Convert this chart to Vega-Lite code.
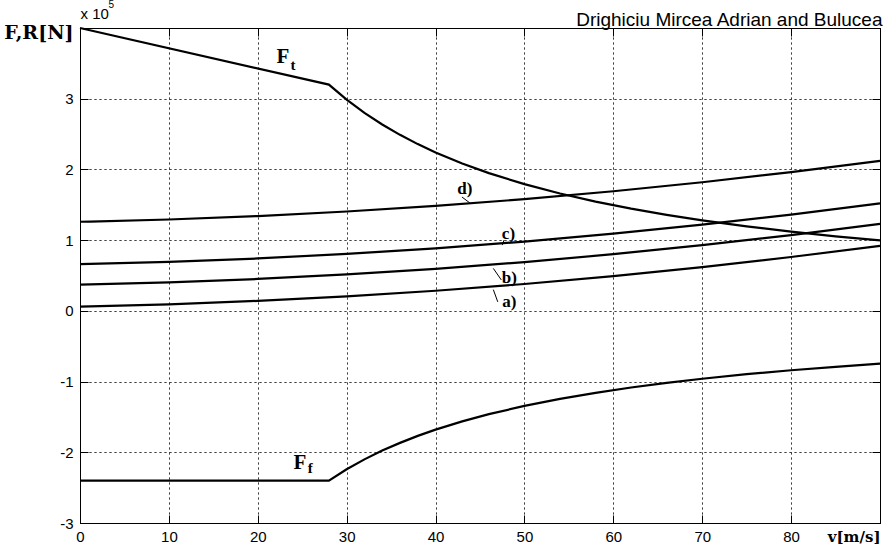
{
  "$schema": "https://vega.github.io/schema/vega-lite/v6.json",
  "width": 800,
  "height": 495,
  "autosize": {"type": "none"},
  "padding": {"left": 80, "top": 28, "right": 7, "bottom": 28},
  "background": "white",
  "config": {
    "view": {"stroke": "black", "strokeWidth": 1},
    "axis": {
      "domainColor": "black",
      "tickColor": "black",
      "labelColor": "black",
      "labelFont": "Liberation Sans",
      "labelFontSize": 15,
      "gridColor": "black",
      "gridDash": [1, 4],
      "gridOpacity": 1,
      "gridWidth": 1
    }
  },
  "datasets": {
    "forces": [
      {"series": "Ft", "v": 0, "val": 4.0},
      {"series": "Ft", "v": 28, "val": 3.2},
      {"series": "Ft", "v": 30, "val": 2.987},
      {"series": "Ft", "v": 32, "val": 2.8},
      {"series": "Ft", "v": 34, "val": 2.635},
      {"series": "Ft", "v": 36, "val": 2.489},
      {"series": "Ft", "v": 38, "val": 2.358},
      {"series": "Ft", "v": 40, "val": 2.24},
      {"series": "Ft", "v": 43, "val": 2.084},
      {"series": "Ft", "v": 46, "val": 1.948},
      {"series": "Ft", "v": 50, "val": 1.792},
      {"series": "Ft", "v": 54, "val": 1.659},
      {"series": "Ft", "v": 58, "val": 1.545},
      {"series": "Ft", "v": 62, "val": 1.445},
      {"series": "Ft", "v": 66, "val": 1.358},
      {"series": "Ft", "v": 70, "val": 1.28},
      {"series": "Ft", "v": 75, "val": 1.195},
      {"series": "Ft", "v": 80, "val": 1.12},
      {"series": "Ft", "v": 85, "val": 1.054},
      {"series": "Ft", "v": 90, "val": 0.996},
      {"series": "Ff", "v": 0, "val": -2.4},
      {"series": "Ff", "v": 28, "val": -2.4},
      {"series": "Ff", "v": 30, "val": -2.24},
      {"series": "Ff", "v": 32, "val": -2.1},
      {"series": "Ff", "v": 34, "val": -1.976},
      {"series": "Ff", "v": 36, "val": -1.867},
      {"series": "Ff", "v": 38, "val": -1.768},
      {"series": "Ff", "v": 40, "val": -1.68},
      {"series": "Ff", "v": 43, "val": -1.563},
      {"series": "Ff", "v": 46, "val": -1.461},
      {"series": "Ff", "v": 50, "val": -1.344},
      {"series": "Ff", "v": 54, "val": -1.244},
      {"series": "Ff", "v": 58, "val": -1.159},
      {"series": "Ff", "v": 62, "val": -1.084},
      {"series": "Ff", "v": 66, "val": -1.018},
      {"series": "Ff", "v": 70, "val": -0.96},
      {"series": "Ff", "v": 75, "val": -0.896},
      {"series": "Ff", "v": 80, "val": -0.84},
      {"series": "Ff", "v": 85, "val": -0.791},
      {"series": "Ff", "v": 90, "val": -0.747}
    ],
    "resist": [
      {"series": "a", "v": 0, "val": 0.06},
      {"series": "a", "v": 10, "val": 0.092},
      {"series": "a", "v": 20, "val": 0.141},
      {"series": "a", "v": 30, "val": 0.205},
      {"series": "a", "v": 40, "val": 0.284},
      {"series": "a", "v": 50, "val": 0.38},
      {"series": "a", "v": 60, "val": 0.491},
      {"series": "a", "v": 70, "val": 0.619},
      {"series": "a", "v": 80, "val": 0.762},
      {"series": "a", "v": 90, "val": 0.92},
      {"series": "b", "v": 0, "val": 0.37},
      {"series": "b", "v": 10, "val": 0.402},
      {"series": "b", "v": 20, "val": 0.451},
      {"series": "b", "v": 30, "val": 0.515},
      {"series": "b", "v": 40, "val": 0.594},
      {"series": "b", "v": 50, "val": 0.69},
      {"series": "b", "v": 60, "val": 0.801},
      {"series": "b", "v": 70, "val": 0.929},
      {"series": "b", "v": 80, "val": 1.072},
      {"series": "b", "v": 90, "val": 1.23},
      {"series": "c", "v": 0, "val": 0.66},
      {"series": "c", "v": 10, "val": 0.692},
      {"series": "c", "v": 20, "val": 0.741},
      {"series": "c", "v": 30, "val": 0.805},
      {"series": "c", "v": 40, "val": 0.884},
      {"series": "c", "v": 50, "val": 0.98},
      {"series": "c", "v": 60, "val": 1.091},
      {"series": "c", "v": 70, "val": 1.219},
      {"series": "c", "v": 80, "val": 1.362},
      {"series": "c", "v": 90, "val": 1.52},
      {"series": "d", "v": 0, "val": 1.26},
      {"series": "d", "v": 10, "val": 1.292},
      {"series": "d", "v": 20, "val": 1.341},
      {"series": "d", "v": 30, "val": 1.405},
      {"series": "d", "v": 40, "val": 1.484},
      {"series": "d", "v": 50, "val": 1.58},
      {"series": "d", "v": 60, "val": 1.691},
      {"series": "d", "v": 70, "val": 1.819},
      {"series": "d", "v": 80, "val": 1.962},
      {"series": "d", "v": 90, "val": 2.12}
    ],
    "bigLetters": [
      {"v": 22.84, "val": 3.593, "t": "F"},
      {"v": 24.75, "val": -2.146, "t": "F"}
    ],
    "subLetters": [
      {"v": 23.95, "val": 3.48, "t": "t"},
      {"v": 25.9, "val": -2.217, "t": "f"}
    ],
    "curveLabels": [
      {"v": 43.3, "val": 1.73, "t": "d)"},
      {"v": 48.2, "val": 1.087, "t": "c)"},
      {"v": 48.3, "val": 0.459, "t": "b)"},
      {"v": 48.3, "val": 0.12, "t": "a)"}
    ],
    "leaders": [
      {"v": 42.97, "val": 1.61, "v2": 43.87, "val2": 1.525},
      {"v": 47.7, "val": 1.0, "v2": 47.5, "val2": 0.93},
      {"v": 46.5, "val": 0.6, "v2": 47.4, "val2": 0.437},
      {"v": 46.5, "val": 0.3, "v2": 47.0, "val2": 0.127}
    ]
  },
  "resolve": {"axis": {"x": "independent", "y": "independent"}},
  "layer": [
    {
      "data": {"name": "forces"},
      "mark": {"type": "line", "color": "black", "strokeWidth": 2.2},
      "encoding": {
        "x": {
          "field": "v", "type": "quantitative",
          "scale": {"domain": [0, 90], "nice": false, "zero": false},
          "axis": {
            "orient": "bottom",
            "title": null,
            "values": [0, 10, 20, 30, 40, 50, 60, 70, 80, 90],
            "labelExpr": "datum.value == 90 ? 'v[m/s]' : toString(datum.value)",
            "labelFont": {"condition": {"test": "datum.value == 90", "value": "DejaVu Serif"}, "value": "Liberation Sans"},
            "labelFontWeight": {"condition": {"test": "datum.value == 90", "value": "bold"}, "value": "normal"},
            "labelAlign": {"condition": {"test": "datum.value == 90", "value": "right"}, "value": "center"},
            "labelFlush": false,
            "labelOverlap": false,
            "tickSize": -8,
            "labelPadding": 14,
            "grid": true,
            "gridDash": [1, 4],
            "gridColor": "black",
            "domain": true
          }
        },
        "y": {
          "field": "val", "type": "quantitative",
          "scale": {"domain": [-3, 4], "nice": false, "zero": false},
          "axis": {
            "orient": "left",
            "values": [-3, -2, -1, 0, 1, 2, 3, 4],
            "labelExpr": "datum.value == 4 ? 'F,R[N]' : toString(datum.value)",
            "labelFont": {"condition": {"test": "datum.value == 4", "value": "DejaVu Serif"}, "value": "Liberation Sans"},
            "labelFontWeight": {"condition": {"test": "datum.value == 4", "value": "bold"}, "value": "normal"},
            "labelFontSize": {"condition": {"test": "datum.value == 4", "value": 19}, "value": 15},
            "labelOffset": {"condition": {"test": "datum.value == 4", "value": 4}, "value": 0},
            "labelFlush": false,
            "labelOverlap": false,
            "tickSize": -8,
            "labelPadding": 15,
            "grid": true,
            "gridDash": [1, 4],
            "gridColor": "black",
            "domain": true,
            "title": "x 10",
            "titleAngle": 0,
            "titleX": 0,
            "titleY": -10,
            "titleAlign": "left",
            "titleBaseline": "alphabetic",
            "titleFont": "Liberation Sans",
            "titleFontSize": 15,
            "titleFontWeight": "normal",
            "titleColor": "black"
          }
        },
        "detail": {"field": "series"}
      }
    },
    {
      "data": {"name": "resist"},
      "mark": {"type": "line", "color": "black", "strokeWidth": 2.2, "interpolate": "monotone"},
      "encoding": {
        "x": {
          "field": "v", "type": "quantitative",
          "axis": {
            "orient": "top",
            "title": "Drighiciu Mircea Adrian and Bulucea",
            "titleX": 802,
            "titleY": -3,
            "titleAlign": "right",
            "titleBaseline": "alphabetic",
            "titleFont": "Liberation Sans",
            "titleFontSize": 19,
            "titleFontWeight": "normal",
            "titleColor": "black",
            "values": [0, 10, 20, 30, 40, 50, 60, 70, 80, 90],
            "labels": false,
            "tickSize": -8,
            "grid": true,
            "gridDash": [1, 4],
            "gridColor": "black",
            "domain": true
          }
        },
        "y": {
          "field": "val", "type": "quantitative",
          "axis": {
            "orient": "right",
            "title": "5",
            "titleAngle": 0,
            "titleX": -772,
            "titleY": -21,
            "titleAlign": "left",
            "titleBaseline": "alphabetic",
            "titleFont": "Liberation Sans",
            "titleFontSize": 10,
            "titleFontWeight": "normal",
            "titleColor": "black",
            "values": [-3, -2, -1, 0, 1, 2, 3, 4],
            "labels": false,
            "tickSize": -8,
            "grid": true,
            "gridDash": [1, 4],
            "gridColor": "black",
            "domain": true
          }
        },
        "detail": {"field": "series"}
      }
    },
    {
      "data": {"name": "leaders"},
      "mark": {"type": "rule", "color": "black", "strokeWidth": 1},
      "encoding": {
        "x": {"field": "v", "type": "quantitative", "axis": null},
        "y": {"field": "val", "type": "quantitative", "axis": null},
        "x2": {"field": "v2"},
        "y2": {"field": "val2"}
      }
    },
    {
      "data": {"name": "bigLetters"},
      "mark": {"type": "text", "font": "Liberation Serif", "fontWeight": "bold", "fontSize": 21, "color": "black", "baseline": "middle", "align": "center"},
      "encoding": {
        "x": {"field": "v", "type": "quantitative", "axis": null},
        "y": {"field": "val", "type": "quantitative", "axis": null},
        "text": {"field": "t"}
      }
    },
    {
      "data": {"name": "subLetters"},
      "mark": {"type": "text", "font": "Liberation Serif", "fontWeight": "bold", "fontSize": 15, "color": "black", "baseline": "middle", "align": "center"},
      "encoding": {
        "x": {"field": "v", "type": "quantitative", "axis": null},
        "y": {"field": "val", "type": "quantitative", "axis": null},
        "text": {"field": "t"}
      }
    },
    {
      "data": {"name": "curveLabels"},
      "mark": {"type": "text", "font": "Liberation Serif", "fontWeight": "bold", "fontSize": 17, "color": "black", "baseline": "middle", "align": "center"},
      "encoding": {
        "x": {"field": "v", "type": "quantitative", "axis": null},
        "y": {"field": "val", "type": "quantitative", "axis": null},
        "text": {"field": "t"}
      }
    }
  ]
}
